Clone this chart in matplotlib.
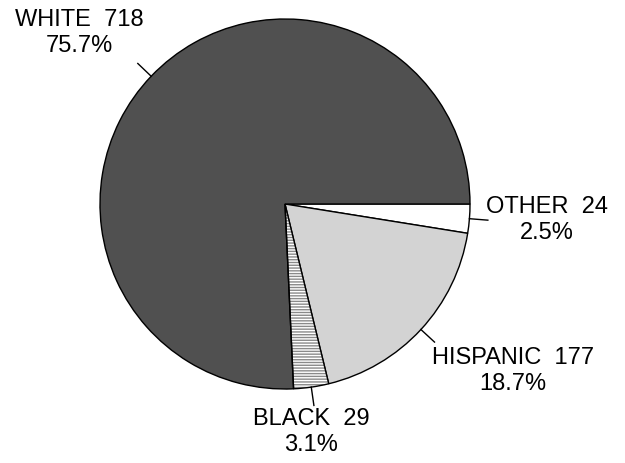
import numpy as np
import matplotlib
matplotlib.use("Agg")
import matplotlib.pyplot as plt
from matplotlib.patches import Wedge

plt.rcParams['font.family'] = ['Liberation Sans', 'DejaVu Sans']
plt.rcParams['hatch.linewidth'] = 1.0

# data, clockwise from 3 o'clock
groups = ["OTHER", "HISPANIC", "BLACK", "WHITE"]
counts = [24, 177, 29, 718]
pcts = [2.5, 18.7, 3.1, 75.7]

colors = ["white", "#d3d3d3", "white", "#505050"]
hatches = [None, None, "------", None]

# label centres in pixel coords (x, y from top)
label_pos = [(547, 220), (513, 371), (311, 432), (79, 33)]

W, H = 625, 464
cx, cy, R = 285, 205, 185

fig = plt.figure(figsize=(W / 100, H / 100), dpi=100)
ax = fig.add_axes([0, 0, 1, 1])

wedges, _ = ax.pie(counts, colors=colors, startangle=0, counterclock=False,
                   center=(cx, H - cy), radius=R, frame=True,
                   wedgeprops=dict(edgecolor='black', linewidth=1.0))
for w, h in zip(wedges, hatches):
    if h:
        # grey hatch, then black outline on top
        w.set_hatch(h)
        w.set_edgecolor('#8a8a8a')
        w.set_linewidth(0)
        ax.add_patch(Wedge(w.center, w.r, w.theta1, w.theta2, fill=False,
                           edgecolor='black', linewidth=1.0))
ax.set_xlim(0, W)
ax.set_ylim(0, H)
ax.set_aspect('equal')
ax.axis('off')

for w, g, n, p, (lx, ly) in zip(wedges, groups, counts, pcts, label_pos):
    ang = np.deg2rad((w.theta1 + w.theta2) / 2)
    x0 = cx + R * np.cos(ang)
    y0 = H - cy + R * np.sin(ang)
    x1 = cx + 1.1 * R * np.cos(ang)
    y1 = H - cy + 1.1 * R * np.sin(ang)
    ax.plot([x0, x1], [y0, y1], color='black', linewidth=1.0)
    ax.text(lx, H - ly, f"{g}  {n}\n{p}%", ha='center', va='center',
            fontsize=17, linespacing=1.25, color='black')

fig.savefig("out.png", dpi=100)
